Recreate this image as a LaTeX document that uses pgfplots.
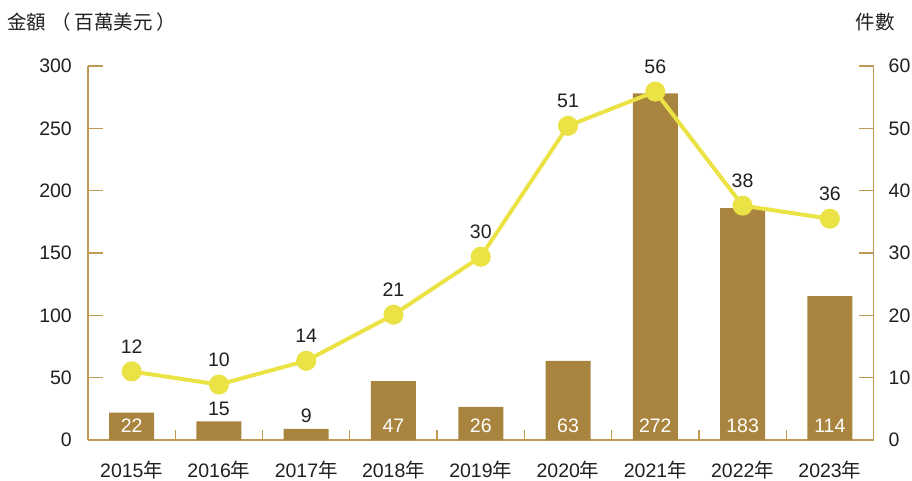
\documentclass[border=0pt]{standalone}
\usepackage{pgfplots}
\pgfplotsset{compat=1.18}
\usepackage{fontspec}
\setmainfont{Liberation Sans}
\newfontfamily\cjk{Noto Sans CJK TC}
\definecolor{barc}{HTML}{A8843E}
\definecolor{linec}{HTML}{EBE245}
\definecolor{axc}{HTML}{BE9A55}
\definecolor{txt}{HTML}{231F20}
\newcommand{\nian}{{\cjk 年}}
\newcommand{\lf}{\fontsize{19.5}{22}\selectfont}
\begin{document}
\lf
\begin{tikzpicture}[x=1pt,y=1pt]
\useasboundingbox (0,0) rectangle (912,480);
\pgfplotsset{common/.style={
  at={(88pt,40pt)}, anchor=south west, width=785.5pt, height=374pt, scale only axis,
  xmin=-0.5, xmax=8.5, clip=false,
  /pgf/number format/assume math mode=true,
  tick label style={font=\lf, text=txt},
  axis line style={axc, line width=1.3pt},
  tick style={axc, line width=1.3pt},
  tick align=inside,
  major tick length=15pt, minor tick length=10pt,
}}
\begin{axis}[common,
  ymin=0, ymax=300, ytick={0,50,...,300},
  axis x line*=bottom, axis y line*=left,
  xtick={0,...,8},
  xticklabels={2015\nian,2016\nian,2017\nian,2018\nian,2019\nian,2020\nian,2021\nian,2022\nian,2023\nian},
  minor xtick={0.5,1.5,...,7.5},
  every major x tick/.append style={draw=none},
  xticklabel style={anchor=base, inner sep=0pt, yshift=-37pt},
  yticklabel style={anchor=east, inner sep=0pt, xshift=-16pt},
]
\addplot[ybar, bar width=45pt, fill=barc, draw=none] coordinates {
(0,22) (1,15) (2,9) (3,47.3) (4,26.5) (5,63.4) (6,278) (7,186) (8,115.5)};
% white labels inside bars
\addplot[draw=none, mark=none, nodes near coords, point meta=explicit symbolic,
  every node near coord/.append style={anchor=base, inner sep=0pt, yshift=8pt, text=white, font=\lf}]
  table[meta=l] {
x y l
0 0 22
3 0 47
4 0 26
5 0 63
6 0 272
7 0 183
8 0 114
};
% black labels above small bars
\addplot[draw=none, mark=none, nodes near coords, point meta=explicit symbolic,
  every node near coord/.append style={anchor=base, inner sep=0pt, yshift=6pt, text=txt, font=\lf}]
  table[meta=l] {
x y l
1 15 15
2 9 9
};
\end{axis}
\begin{axis}[common,
  ymin=0, ymax=60, ytick={0,10,...,60},
  axis y line*=right, axis x line=none,
  yticklabel style={anchor=west, inner sep=0pt, xshift=15pt},
]
\addplot[linec, line width=4pt, mark=*, mark size=8pt, mark options={draw=none, fill=linec},
  nodes near coords, point meta=explicit symbolic,
  every node near coord/.append style={anchor=base, inner sep=0pt, yshift=18pt, text=txt, font=\lf}]
  table[meta=l] {
x y l
0 11 12
1 8.9 10
2 12.7 14
3 20.1 21
4 29.4 30
5 50.4 51
6 55.9 56
7 37.6 38
8 35.5 36
};
\end{axis}
\node[anchor=west, inner sep=0pt, text=txt] at (7,458) {\cjk\fontsize{19.5}{22}\selectfont 金額\hspace{5pt}（\hspace{4pt}百萬美元\hspace{4pt}）};
\node[anchor=center, inner sep=0pt, text=txt] at (875,458) {\cjk\fontsize{19.5}{22}\selectfont 件數};
\end{tikzpicture}
\end{document}
